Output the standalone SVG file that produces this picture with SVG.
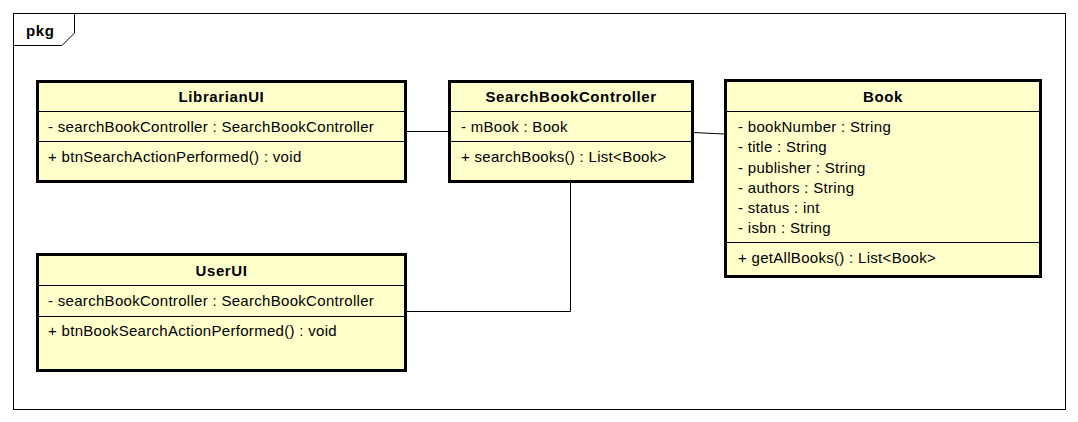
<svg xmlns="http://www.w3.org/2000/svg" width="1078" height="422" viewBox="0 0 1078 422">
<style>
.frame{fill:#fff;stroke:#000;stroke-width:1}
.box{fill:#ffffcc;stroke:#000;stroke-width:3}
.sep{stroke:#000;stroke-width:1}
.t{font-family:"Liberation Sans",Arial,sans-serif;font-size:15px;letter-spacing:0.3px;fill:#000}
.b{font-weight:bold;text-anchor:middle;letter-spacing:0.6px}
.c{fill:none;stroke:#000;stroke-width:1}
</style>
<rect width="1078" height="422" fill="#fff"/>
<g id="pkg">
<rect class="frame" x="13.5" y="13.5" width="1052" height="396"/>
<path class="c" d="M13.5 45.5 H62 L74.5 33 V13.5"/>
<text class="t" x="26" y="36" font-weight="bold" style="letter-spacing:0.6px">pkg</text>
</g>
<g id="connectors">
<line class="c" x1="406" y1="131.5" x2="448" y2="131.5"/>
<line class="c" x1="693" y1="132.5" x2="724" y2="134"/>
<path class="c" d="M406 311.5 H570.5 V183"/>
</g>
<g id="LibrarianUI">
<rect class="box" x="37.5" y="81.5" width="368" height="100"/>
<line class="sep" x1="37" y1="111.5" x2="406" y2="111.5"/>
<line class="sep" x1="37" y1="141.5" x2="406" y2="141.5"/>
<text class="t b" x="221.5" y="102">LibrarianUI</text>
<text class="t" x="48" y="132">- searchBookController : SearchBookController</text>
<text class="t" x="48" y="162">+ btnSearchActionPerformed() : void</text>
</g>
<g id="SearchBookController">
<rect class="box" x="449.5" y="81.5" width="243" height="100"/>
<line class="sep" x1="449" y1="111.5" x2="693" y2="111.5"/>
<line class="sep" x1="449" y1="141.5" x2="693" y2="141.5"/>
<text class="t b" x="571" y="102">SearchBookController</text>
<text class="t" x="461" y="132">- mBook : Book</text>
<text class="t" x="461" y="162">+ searchBooks() : List&lt;Book&gt;</text>
</g>
<g id="Book">
<rect class="box" x="725.5" y="80.5" width="315" height="196"/>
<line class="sep" x1="725" y1="111.5" x2="1041" y2="111.5"/>
<line class="sep" x1="725" y1="242.5" x2="1041" y2="242.5"/>
<text class="t b" x="883" y="102">Book</text>
<text class="t" x="738" y="132">- bookNumber : String</text>
<text class="t" x="738" y="152">- title : String</text>
<text class="t" x="738" y="173">- publisher : String</text>
<text class="t" x="738" y="193">- authors : String</text>
<text class="t" x="738" y="213">- status : int</text>
<text class="t" x="738" y="233">- isbn : String</text>
<text class="t" x="738" y="263">+ getAllBooks() : List&lt;Book&gt;</text>
</g>
<g id="UserUI">
<rect class="box" x="37.5" y="254.5" width="368" height="116"/>
<line class="sep" x1="37" y1="285.5" x2="406" y2="285.5"/>
<line class="sep" x1="37" y1="316.5" x2="406" y2="316.5"/>
<text class="t b" x="221.5" y="276">UserUI</text>
<text class="t" x="48" y="306">- searchBookController : SearchBookController</text>
<text class="t" x="48" y="336">+ btnBookSearchActionPerformed() : void</text>
</g>
</svg>
